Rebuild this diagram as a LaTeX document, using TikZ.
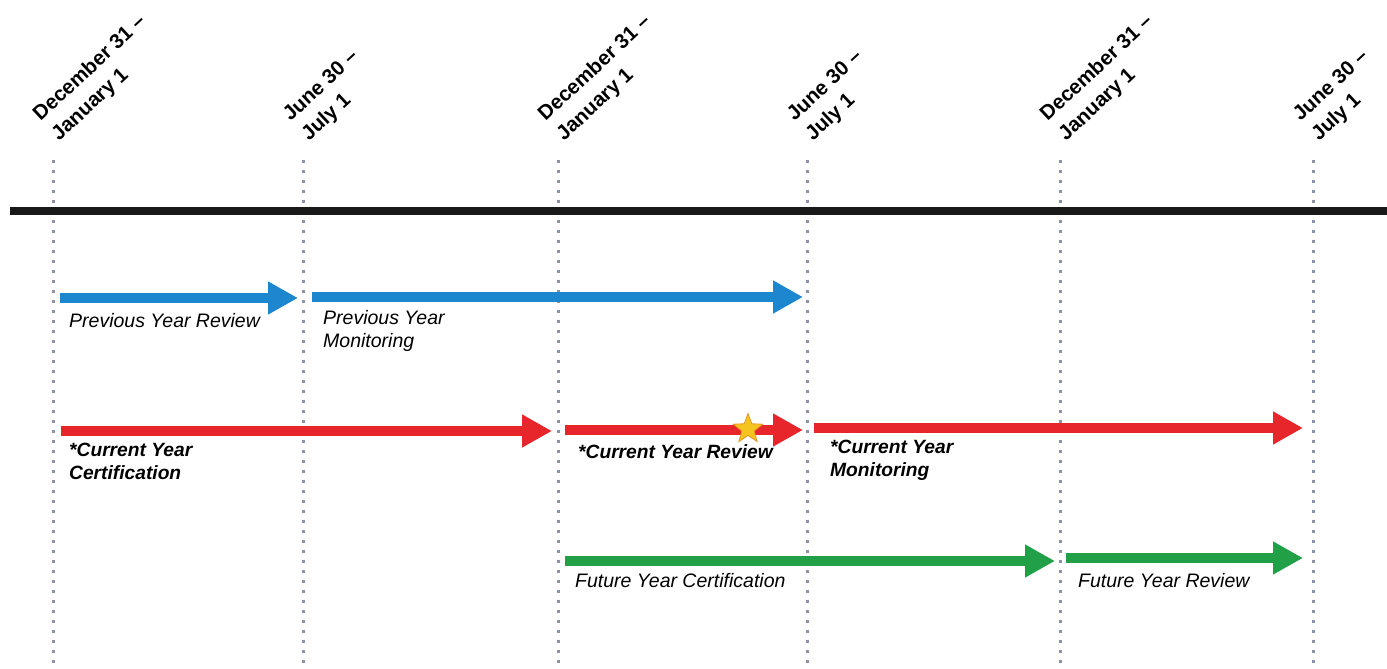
\documentclass[tikz,border=0pt]{standalone}
\usepackage{fontspec}
\setmainfont{Liberation Sans}
\usetikzlibrary{arrows.meta,shapes.geometric}
\definecolor{tlblue}{RGB}{28,135,207}
\definecolor{tlred}{RGB}{230,38,42}
\definecolor{tlgreen}{RGB}{33,160,72}
\definecolor{dotgray}{RGB}{138,147,166}
\definecolor{stargold}{RGB}{246,196,30}
\definecolor{starline}{RGB}{225,150,40}
\definecolor{axisblack}{RGB}{25,25,25}
\begin{document}
\begin{tikzpicture}[x=1pt,y=-1pt,
  bar/.style={line width=10.5pt, -{Triangle[width=31pt,length=30pt]}},
  guide/.style={dotgray, line width=3pt, dash pattern=on 3pt off 7pt},
  datelbl/.style={rotate=43, anchor=south west, align=left, inner sep=0pt,
    font=\bfseries\fontsize{20.5}{27}\selectfont},
  lbl/.style={anchor=base west, inner sep=0pt, align=left,
    font=\itshape\fontsize{19.5}{23}\selectfont},
  blbl/.style={lbl, font=\bfseries\itshape\fontsize{19.2}{23}\selectfont}]
\useasboundingbox (0,0) rectangle (1387,669);
\fill[white] (0,0) rectangle (1387,669);

% guide lines
\foreach \n/\x in {g1/53,g2/303,g3/558,g4/807,g5/1060,g6/1313}{
  \coordinate (\n t) at (\x,160);
  \coordinate (\n b) at (\x,669);
  \draw[guide] (\n t) -- (\n b);
}

% axis
\coordinate (axL) at (10,211);
\coordinate (axR) at (1387,211);
\draw[axisblack, line width=8pt] (axL) -- (axR);

% date labels
\node[datelbl] (d1) at (62,145) {December 31 –\\January 1};
\node[datelbl] (d2) at (312,145) {June 30 –\\July 1};
\node[datelbl] (d3) at (567,145) {December 31 –\\January 1};
\node[datelbl] (d4) at (816,145) {June 30 –\\July 1};
\node[datelbl] (d5) at (1069,145) {December 31 –\\January 1};
\node[datelbl] (d6) at (1322,145) {June 30 –\\July 1};

% arrow end points
\coordinate (b1s) at (60,298);  \coordinate (b1e) at (298,298);
\coordinate (b2s) at (312,297); \coordinate (b2e) at (803,297);
\coordinate (r1s) at (61,431);  \coordinate (r1e) at (552,431);
\coordinate (r2s) at (565,430); \coordinate (r2e) at (803,430);
\coordinate (r3s) at (814,428); \coordinate (r3e) at (1303,428);
\coordinate (f1s) at (565,561); \coordinate (f1e) at (1055,561);
\coordinate (f2s) at (1066,558);\coordinate (f2e) at (1303,558);

\draw[bar, tlblue] (b1s) -- (b1e);
\draw[bar, tlblue] (b2s) -- (b2e);
\draw[bar, tlred] (r1s) -- (r1e);
\draw[bar, tlred] (r2s) -- (r2e);
\draw[bar, tlred] (r3s) -- (r3e);
\draw[bar, tlgreen] (f1s) -- (f1e);
\draw[bar, tlgreen] (f2s) -- (f2e);

\node[star, star points=5, star point ratio=2.4, minimum size=31pt, inner sep=0pt,
  fill=stargold, draw=starline, line width=0.8pt] (star) at (748,429) {};

% labels (base west = baseline of the last line)
\node[lbl] (l1) at (69,327) {Previous Year Review};
\node[lbl] (l2) at (323,347) {Previous Year\\Monitoring};
\node[blbl] (l3) at (69,479) {*Current Year\\Certification};
\node[blbl] (l4) at (578,458) {*Current Year Review};
\node[blbl] (l5) at (830,476) {*Current Year\\Monitoring};
\node[lbl] (l6) at (575,587) {Future Year Certification};
\node[lbl] (l7) at (1078,587) {Future Year Review};
\end{tikzpicture}
\end{document}
